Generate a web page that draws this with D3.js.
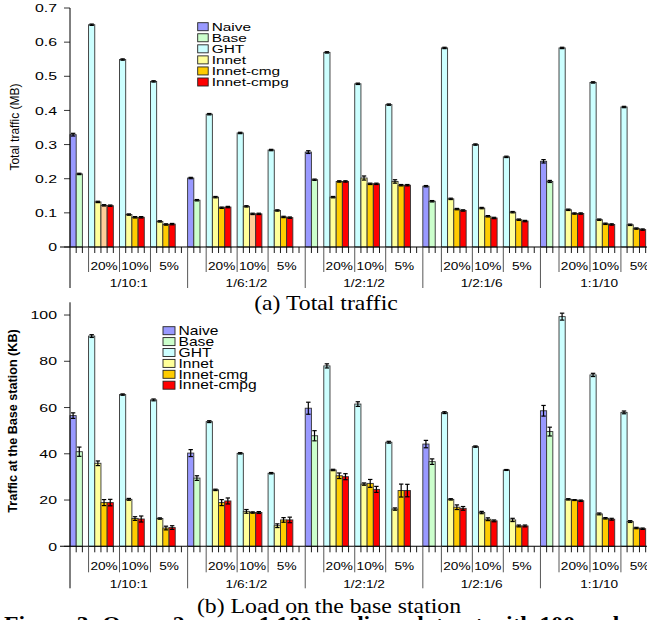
<!DOCTYPE html>
<html>
<head>
<meta charset="utf-8">
<script src="https://cdn.jsdelivr.net/npm/d3@7"></script>
<style>
  body { margin: 0; background: #fff; }
  svg { display: block; }
</style>
</head>
<body>
<svg id="chart" width="647" height="620"></svg>
<script>
// groups on the outer axis, rates on the inner axis
const groups = ["1/10:1", "1/6:1/2", "1/2:1/2", "1/2:1/6", "1:1/10"];
const rates = ["20%", "10%", "5%"];
const series = ["Naive", "Base", "GHT", "Innet", "Innet-cmg", "Innet-cmpg"];
const colors = ["#9999ff", "#ccffcc", "#ccffff", "#ffff99", "#ffcc00", "#ff0000"];

// each row: Naive, Base, then GHT/Innet/cmg/cmpg for 20%, 10%, 5%
const totalTraffic = [
  [0.329, 0.214, 0.651, 0.132, 0.122, 0.121, 0.549, 0.095, 0.087, 0.087, 0.485, 0.075, 0.066, 0.067],
  [0.202, 0.137, 0.389, 0.146, 0.115, 0.117, 0.334, 0.119, 0.097, 0.097, 0.284, 0.107, 0.088, 0.086],
  [0.278, 0.197, 0.570, 0.146, 0.192, 0.192, 0.478, 0.202, 0.185, 0.185, 0.417, 0.192, 0.181, 0.181],
  [0.178, 0.134, 0.583, 0.141, 0.111, 0.107, 0.300, 0.114, 0.090, 0.085, 0.264, 0.102, 0.080, 0.076],
  [0.251, 0.192, 0.583, 0.109, 0.098, 0.098, 0.482, 0.080, 0.068, 0.066, 0.410, 0.065, 0.054, 0.051]
];
const totalErr = [
  [0.004, 0.002, 0.002, 0.002, 0.002, 0.002, 0.002, 0.002, 0.002, 0.002, 0.002, 0.002, 0.002, 0.002],
  [0.002, 0.002, 0.002, 0.002, 0.002, 0.002, 0.002, 0.002, 0.002, 0.002, 0.002, 0.002, 0.002, 0.002],
  [0.004, 0.002, 0.002, 0.002, 0.002, 0.002, 0.002, 0.006, 0.002, 0.002, 0.002, 0.005, 0.002, 0.002],
  [0.002, 0.002, 0.002, 0.002, 0.002, 0.002, 0.002, 0.002, 0.002, 0.002, 0.002, 0.002, 0.002, 0.002],
  [0.005, 0.003, 0.002, 0.002, 0.002, 0.002, 0.002, 0.002, 0.002, 0.002, 0.002, 0.002, 0.002, 0.002]
];
// a couple of Innet-cmg bars are drawn in a lighter orange in the original
const peachBars = [[0, 4], [1, 8]];

const baseLoad = [
  [56.5, 40.9, 90.9, 35.9, 18.9, 18.9, 65.6, 20.3, 12.0, 11.8, 63.3, 12.0, 7.9, 8.1],
  [40.3, 29.5, 53.9, 24.4, 18.9, 19.6, 40.2, 15.1, 14.6, 14.6, 31.6, 8.9, 11.4, 11.4],
  [59.7, 47.8, 78.0, 33.0, 30.5, 30.1, 61.5, 26.9, 27.2, 24.6, 45.0, 16.1, 24.1, 24.1],
  [44.2, 36.6, 57.8, 20.3, 16.9, 16.4, 43.1, 14.6, 11.7, 11.0, 33.0, 11.4, 8.8, 8.8],
  [58.6, 49.6, 99.3, 20.3, 20.0, 19.7, 74.1, 14.0, 12.1, 11.7, 57.9, 10.7, 7.9, 7.6]
];
const baseErr = [
  [1.2, 2.0, 0.6, 1.0, 1.3, 1.4, 0.3, 0.4, 0.8, 1.3, 0.4, 0.3, 0.8, 0.8],
  [1.5, 1.0, 0.4, 0.3, 1.3, 1.3, 0.3, 0.8, 0.3, 0.4, 0.3, 0.8, 1.0, 1.2],
  [2.6, 2.2, 0.9, 0.3, 1.2, 1.3, 1.0, 0.5, 1.7, 1.3, 0.4, 0.5, 2.8, 2.7],
  [1.6, 1.2, 0.4, 0.3, 1.0, 0.8, 0.3, 0.5, 0.6, 0.4, 0.2, 0.7, 0.4, 0.4],
  [2.3, 1.9, 1.5, 0.3, 0.2, 0.3, 0.7, 0.4, 0.3, 0.4, 0.6, 0.4, 0.3, 0.3]
];
const totalTicks = [0, 0.1, 0.2, 0.3, 0.4, 0.5, 0.6, 0.7];
const loadTicks = [0, 20, 40, 60, 80, 100];

const W = 647, H = 620;
const svg = d3.select("#chart");
svg.append("rect").attr("width", W).attr("height", H).attr("fill", "#fff");

const slotsPerGroup = 19;
const slotW = 6.19;
const x = d3.scaleBand()
  .domain(d3.range(groups.length * slotsPerGroup))
  .range([70, 70 + groups.length * slotsPerGroup * slotW])
  .paddingInner(0).paddingOuter(0);

function slotOf(g, i) {
  if (i < 2) return g * slotsPerGroup + i;
  const k = i - 2;
  return g * slotsPerGroup + 3 + Math.floor(k / 4) * 5 + (k % 4);
}
function seriesOf(i) { return i < 2 ? i : 2 + (i - 2) % 4; }

const sans = "'Liberation Sans', Arial, sans-serif";
const serif = "'Liberation Serif', 'Times New Roman', serif";

function stretched(parent, txt, tx, ty, size, sx, anchor, family) {
  return parent.append("text")
    .attr("transform", `translate(${tx},${ty}) scale(${sx},1)`)
    .attr("text-anchor", anchor || "start")
    .attr("font-family", family || sans)
    .attr("font-size", size)
    .attr("fill", "#000")
    .text(txt);
}

function drawPanel(o) {
  const g = svg.append("g");
  const y = d3.scaleLinear().domain(o.domain).range(o.range);
  const y0 = y(0);

  // bars
  const flat = [];
  o.values.forEach((row, gi) => row.forEach((v, i) => {
    flat.push({ g: gi, i, v, e: o.errors[gi][i] });
  }));

  g.append("g").selectAll("rect").data(flat).join("rect")
    .attr("x", d => x(slotOf(d.g, d.i)))
    .attr("width", x.bandwidth())
    .attr("y", d => y(d.v))
    .attr("height", d => y0 - y(d.v))
    .attr("fill", d => {
      if (o.peach && o.peach.some(p => p[0] === d.g && p[1] === d.i)) return "#ffcc99";
      return colors[seriesOf(d.i)];
    })
    .attr("stroke", "#333")
    .attr("stroke-width", 0.9);

  // error bars
  const eb = g.append("g").attr("stroke", "#000").attr("stroke-width", 1.2);
  flat.forEach(d => {
    const cx = x(slotOf(d.g, d.i)) + x.bandwidth() / 2;
    const lo = y(d.v - d.e), hi = y(d.v + d.e);
    eb.append("line").attr("x1", cx).attr("x2", cx).attr("y1", lo).attr("y2", hi);
    eb.append("line").attr("x1", cx - 2.2).attr("x2", cx + 2.2).attr("y1", lo).attr("y2", lo);
    eb.append("line").attr("x1", cx - 2.2).attr("x2", cx + 2.2).attr("y1", hi).attr("y2", hi);
  });

  // y axis
  const ax = g.append("g");
  ax.append("line").attr("x1", 70).attr("x2", 70)
    .attr("y1", y(o.domain[1])).attr("y2", y0 + o.groupDrop)
    .attr("stroke", "#000").attr("stroke-width", 1);
  o.ticks.forEach(t => {
    ax.append("line").attr("x1", 64).attr("x2", 70).attr("y1", y(t)).attr("y2", y(t))
      .attr("stroke", "#000").attr("stroke-width", 0.8);
    stretched(ax, o.fmt(t), 57, y(t) + 4.2, 11.5, 1.38, "end");
  });

  // x axis line
  ax.append("line").attr("x1", 60).attr("x2", W).attr("y1", y0).attr("y2", y0)
    .attr("stroke", "#000").attr("stroke-width", 1.1);

  // category ticks and separators
  const nSlots = groups.length * slotsPerGroup;
  for (let k = 1; k <= nSlots; k++) {
    const xp = 70 + k * slotW;
    const r = k % slotsPerGroup;
    let len = 6, col = "#000";
    if (r === 0) { len = o.groupDrop; col = "#444"; }
    else if (r === 3 || r === 8 || r === 13) { len = o.rateDrop; col = "#444"; }
    ax.append("line").attr("x1", xp).attr("x2", xp).attr("y1", y0).attr("y2", y0 + len)
      .attr("stroke", col).attr("stroke-width", 0.9);
  }

  // rate labels and group labels
  const rateSpans = [[3, 8], [8, 13], [13, 19]];
  groups.forEach((name, gi) => {
    rateSpans.forEach((sp, ri) => {
      const cx = 70 + (gi * slotsPerGroup + (sp[0] + sp[1]) / 2) * slotW;
      stretched(ax, rates[ri], cx, y0 + o.rateBase, 10.5, 1.3, "middle");
    });
    const gx = 70 + (gi * slotsPerGroup + slotsPerGroup / 2) * slotW;
    stretched(ax, name, gx, y0 + o.groupBase, 10.5, 1.3, "middle");
  });

  // y title
  ax.append("text")
    .attr("transform", `translate(${o.titleX},${o.titleY}) rotate(-90)`)
    .attr("text-anchor", "middle")
    .attr("font-family", sans)
    .attr("font-size", o.titleSize)
    .attr("font-weight", o.titleWeight)
    .text(o.title);

  // legend
  const lg = g.append("g");
  series.forEach((s, i) => {
    const cy = o.legY + i * o.legStep;
    lg.append("rect").attr("x", o.legX).attr("y", cy - 4).attr("width", o.swW).attr("height", 8)
      .attr("fill", colors[i]).attr("stroke", "#222").attr("stroke-width", 0.9);
    stretched(lg, s, o.legX + o.swW + 3.5, cy + 4.2, o.legSize, o.legSx, "start");
  });
}

drawPanel({
  values: totalTraffic, errors: totalErr, peach: peachBars,
  domain: [0, 0.7], range: [247, 8], ticks: totalTicks,
  fmt: t => t === 0 ? "0" : t.toFixed(1),
  rateDrop: 25, groupDrop: 41, rateBase: 23, groupBase: 39.5,
  title: "Total traffic (MB)", titleX: 19, titleY: 127, titleSize: 12, titleWeight: "normal",
  legX: 197.7, legY: 26.7, legStep: 11.06, swW: 10.5, legSize: 11.5, legSx: 1.34
});

drawPanel({
  values: baseLoad, errors: baseErr,
  domain: [0, 105.5], range: [546.3, 302.3], ticks: loadTicks,
  fmt: t => String(t),
  rateDrop: 26, groupDrop: 42, rateBase: 23.2, groupBase: 41.2,
  title: "Traffic at the Base station (KB)", titleX: 17, titleY: 421, titleSize: 12.6, titleWeight: "bold",
  legX: 163, legY: 330.7, legStep: 10.9, swW: 12, legSize: 12.3, legSx: 1.27
});

// captions (the figure is printed slightly wider than tall)
stretched(svg, "(a) Total traffic", 326, 310, 21, 1.13, "middle", serif);
stretched(svg, "(b) Load on the base station", 329, 612.5, 21, 1.13, "middle", serif);
stretched(svg, "Figure 3: Query 2 over a 1,100 readings dataset with 100 nodes and", 4, 631, 21, 1.13, "start", serif)
  .attr("font-weight", "bold");
</script>
</body>
</html>
